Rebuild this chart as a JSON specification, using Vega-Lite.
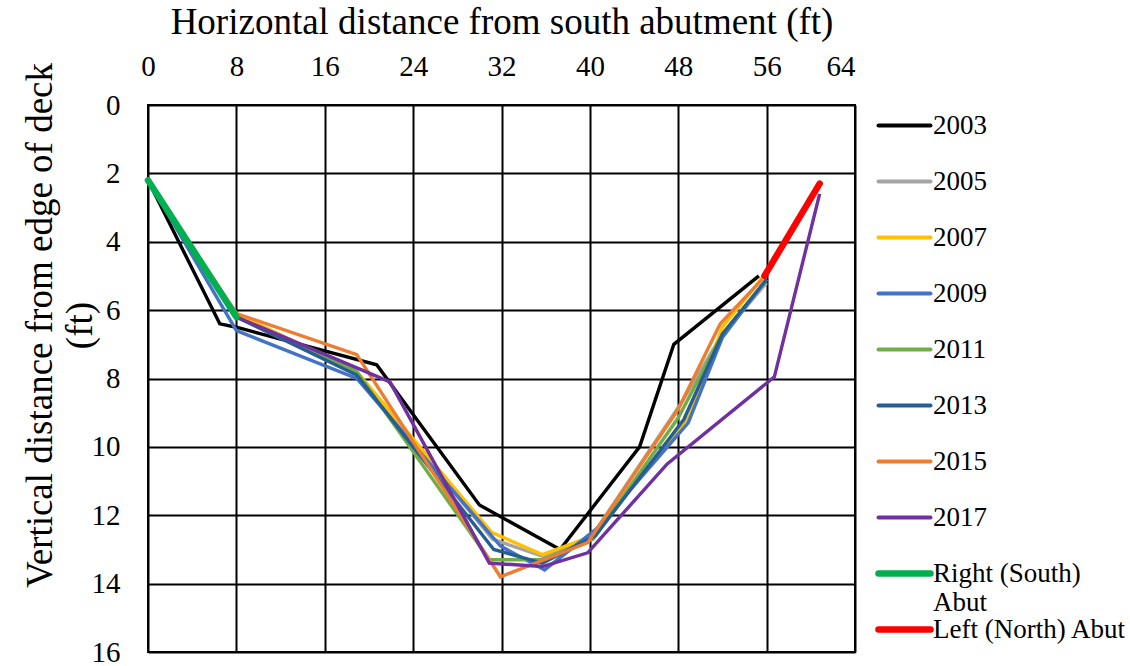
{
  "$schema": "https://vega.github.io/schema/vega-lite/v6.json",
  "width": 707,
  "height": 547,
  "autosize": {"type": "none"},
  "padding": {"left": 148, "top": 105, "right": 275, "bottom": 14},
  "background": "white",
  "config": {
    "font": "Liberation Serif",
    "view": {"stroke": "black", "strokeWidth": 2},
    "axis": {"gridColor": "black", "gridWidth": 2, "gridOpacity": 1, "domain": false, "ticks": false, "labelColor": "black", "titleColor": "black", "labelFont": "Liberation Serif", "titleFont": "Liberation Serif", "titleFontWeight": "normal"}
  },
  "datasets": {
    "years": [
      {"series": "2003", "x": 0, "y": 2.2},
      {"series": "2003", "x": 6.5, "y": 6.4},
      {"series": "2003", "x": 8, "y": 6.5},
      {"series": "2003", "x": 20.7, "y": 7.6},
      {"series": "2003", "x": 30, "y": 11.7},
      {"series": "2003", "x": 37.3, "y": 13.0},
      {"series": "2003", "x": 44.5, "y": 10.0},
      {"series": "2003", "x": 47.6, "y": 7.0},
      {"series": "2003", "x": 55.3, "y": 5.0},
      {"series": "2005", "x": 0, "y": 2.2},
      {"series": "2005", "x": 8, "y": 6.2},
      {"series": "2005", "x": 18.9, "y": 7.9},
      {"series": "2005", "x": 31.2, "y": 12.7},
      {"series": "2005", "x": 35.7, "y": 13.2},
      {"series": "2005", "x": 40, "y": 12.7},
      {"series": "2005", "x": 48.3, "y": 8.7},
      {"series": "2005", "x": 52, "y": 6.7},
      {"series": "2005", "x": 56, "y": 5.2},
      {"series": "2007", "x": 0, "y": 2.2},
      {"series": "2007", "x": 8, "y": 6.1},
      {"series": "2007", "x": 18.9, "y": 7.8},
      {"series": "2007", "x": 31.1, "y": 12.5},
      {"series": "2007", "x": 35.7, "y": 13.15},
      {"series": "2007", "x": 40.3, "y": 12.6},
      {"series": "2007", "x": 49, "y": 9.1},
      {"series": "2007", "x": 52, "y": 6.5},
      {"series": "2007", "x": 56, "y": 4.9},
      {"series": "2009", "x": 0, "y": 2.2},
      {"series": "2009", "x": 8, "y": 6.6},
      {"series": "2009", "x": 18.9, "y": 8.0},
      {"series": "2009", "x": 31.9, "y": 12.9},
      {"series": "2009", "x": 35.9, "y": 13.6},
      {"series": "2009", "x": 40.6, "y": 12.4},
      {"series": "2009", "x": 48.9, "y": 9.3},
      {"series": "2009", "x": 52, "y": 6.8},
      {"series": "2009", "x": 56, "y": 5.1},
      {"series": "2011", "x": 0, "y": 2.2},
      {"series": "2011", "x": 8, "y": 6.2},
      {"series": "2011", "x": 18.9, "y": 7.8},
      {"series": "2011", "x": 30.9, "y": 13.3},
      {"series": "2011", "x": 35.7, "y": 13.3},
      {"series": "2011", "x": 40.3, "y": 12.7},
      {"series": "2011", "x": 48, "y": 9.15},
      {"series": "2011", "x": 52, "y": 6.7},
      {"series": "2011", "x": 56, "y": 5.1},
      {"series": "2013", "x": 0, "y": 2.2},
      {"series": "2013", "x": 8, "y": 6.2},
      {"series": "2013", "x": 18.9, "y": 7.9},
      {"series": "2013", "x": 31.3, "y": 13.0},
      {"series": "2013", "x": 35.7, "y": 13.4},
      {"series": "2013", "x": 40.5, "y": 12.6},
      {"series": "2013", "x": 48.5, "y": 9.2},
      {"series": "2013", "x": 52, "y": 6.7},
      {"series": "2013", "x": 56, "y": 5.1},
      {"series": "2015", "x": 0, "y": 2.2},
      {"series": "2015", "x": 8, "y": 6.1},
      {"series": "2015", "x": 18.9, "y": 7.3},
      {"series": "2015", "x": 31.9, "y": 13.8},
      {"series": "2015", "x": 39.8, "y": 12.8},
      {"series": "2015", "x": 48, "y": 8.9},
      {"series": "2015", "x": 51.8, "y": 6.4},
      {"series": "2015", "x": 55.6, "y": 5.1},
      {"series": "2017", "x": 0, "y": 2.2},
      {"series": "2017", "x": 8, "y": 6.2},
      {"series": "2017", "x": 21.9, "y": 8.1},
      {"series": "2017", "x": 30.9, "y": 13.4},
      {"series": "2017", "x": 35.7, "y": 13.5},
      {"series": "2017", "x": 39.8, "y": 13.1},
      {"series": "2017", "x": 47, "y": 10.5},
      {"series": "2017", "x": 56.7, "y": 7.95},
      {"series": "2017", "x": 60.8, "y": 2.6}
    ],
    "abut": [
      {"series": "Right (South) Abut", "x": 0, "y": 2.2},
      {"series": "Right (South) Abut", "x": 8, "y": 6.2},
      {"series": "Left (North) Abut", "x": 55.8, "y": 5.0},
      {"series": "Left (North) Abut", "x": 60.8, "y": 2.3}
    ]
  },
  "layer": [
    {
      "data": {"name": "years"},
      "mark": {"type": "line", "strokeWidth": 3.4, "strokeJoin": "miter"},
      "encoding": {
        "x": {"field": "x", "type": "quantitative"},
        "y": {"field": "y", "type": "quantitative"},
        "color": {"field": "series", "type": "nominal"}
      }
    },
    {
      "data": {"name": "abut"},
      "mark": {"type": "line", "strokeWidth": 6.5, "strokeCap": "round"},
      "encoding": {
        "x": {"field": "x", "type": "quantitative"},
        "y": {"field": "y", "type": "quantitative"},
        "color": {"field": "series", "type": "nominal"}
      }
    }
  ],
  "resolve": {"scale": {"color": "shared"}},
  "encoding": {
    "x": {
      "field": "x", "type": "quantitative",
      "scale": {"domain": [0, 64], "nice": false, "zero": false},
      "axis": {"orient": "top", "values": [0, 8, 16, 24, 32, 40, 48, 56, 64], "labelFontSize": 29, "labelPadding": 24, "labelFlush": false, "labelAlign": {"condition": {"test": "datum.value == 64", "value": "right"}, "value": "center"}, "title": "Horizontal distance from south abutment (ft)", "titleFontSize": 37, "titleY": -64}
    },
    "y": {
      "field": "y", "type": "quantitative",
      "scale": {"domain": [0, 16], "nice": false, "reverse": true, "zero": false},
      "axis": {"values": [0, 2, 4, 6, 8, 10, 12, 14, 16], "labelFontSize": 29, "labelPadding": 28, "title": ["Vertical distance from edge of deck", "(ft)"], "titleFontSize": 37, "titleLineHeight": 40, "titleX": -89, "titleY": 220}
    },
    "color": {
      "field": "series", "type": "nominal",
      "scale": {
        "domain": ["2003", "2005", "2007", "2009", "2011", "2013", "2015", "2017", "Right (South) Abut", "Left (North) Abut"],
        "range": ["#000000", "#A5A5A5", "#FFC000", "#4472C4", "#70AD47", "#255E91", "#ED7D31", "#7030A0", "#00B050", "#FF0000"]
      },
      "legend": {
        "title": null,
        "orient": "none",
        "legendX": 743,
        "legendY": 7,
        "padding": 0,
        "symbolType": "stroke",
        "symbolSize": 2704,
        "symbolStrokeWidth": 4,
        "labelFontSize": 27,
        "labelColor": "black",
        "labelLimit": 300,
        "labelOffset": 15,
        "gridAlign": "all",
        "rowPadding": -7.1,
        "labelExpr": "datum.label == 'Right (South) Abut' ? ['Right (South)', 'Abut'] : datum.label",
        "encode": {
          "symbols": {"update": {"strokeWidth": {"signal": "indexof(['Right (South) Abut', 'Left (North) Abut'], datum.value) >= 0 ? 6.5 : 4"}, "strokeCap": {"value": "round"}}},
          "labels": {"update": {"lineHeight": {"value": 29}}}
        }
      }
    }
  }
}
